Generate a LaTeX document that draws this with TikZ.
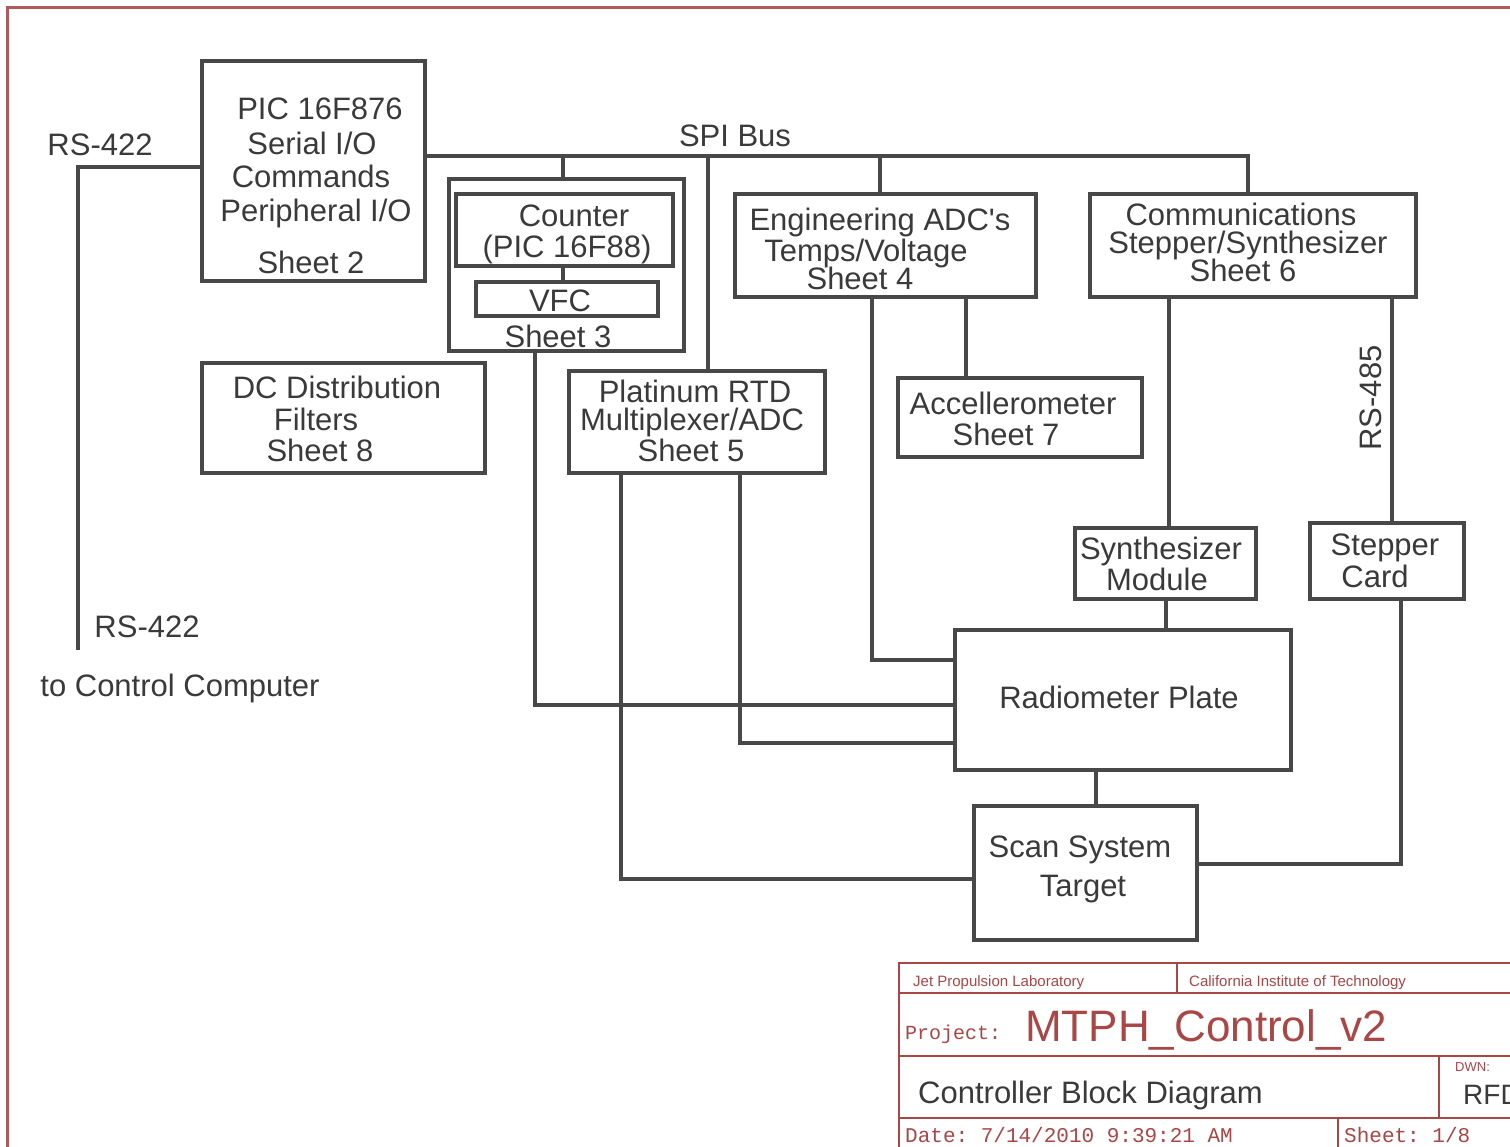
\documentclass[tikz,border=0pt]{standalone}
\usepackage{fontspec}
\setmainfont{Liberation Sans}
\setmonofont{Liberation Mono}
\usetikzlibrary{positioning}
\definecolor{wgray}{HTML}{484848}
\definecolor{tgray}{HTML}{3A3A3A}
\definecolor{fred}{HTML}{A94646}
\tikzset{
  blk/.style={draw=wgray,line width=3.5pt,inner sep=0pt},
  blkb/.style={blk,line width=4.5pt},
  wire/.style={draw=wgray,line width=4pt},
  txt/.style={text=tgray,font=\fontsize{31}{31}\selectfont,inner sep=0pt,text height=22pt,text depth=0pt},
  frm/.style={draw=fred,line width=2pt},
  ttl/.style={inner sep=0pt,anchor=west,text depth=0pt},
}

\begin{document}
\begin{tikzpicture}[x=1pt,y=-1pt]
  \useasboundingbox (0,0) rectangle (1510,1146);
  \clip (0,0) rectangle (1510,1146);
  \fill[white] (0,0) rectangle (1510,1146);
  % sheet frame
  \draw[draw=fred!90,line width=3pt] (7,1150) -- (7,7) -- (1515,7);

  % blocks
  \node[blk,minimum width=223pt,minimum height=220pt] (pic) at (313.5,171) {};
  \node[blk,minimum width=235pt,minimum height=172pt] (sh3) at (566.5,265) {};
  \node[blk,minimum width=217pt,minimum height=72pt] (cnt) at (564.5,230) {};
  \node[blk,minimum width=182pt,minimum height=34pt] (vfc) at (567,299) {};
  \node[blk,minimum width=283pt,minimum height=110pt] (dcd) at (343.5,418) {};
  \node[blk,minimum width=256pt,minimum height=102pt] (rtd) at (697,422) {};
  \node[blk,minimum width=301pt,minimum height=103pt] (eng) at (885.5,245.5) {};
  \node[blk,minimum width=326pt,minimum height=103pt] (com) at (1253,245.5) {};
  \node[blk,minimum width=244pt,minimum height=79pt] (acc) at (1020,417.5) {};
  \node[blkb,minimum width=181pt,minimum height=71pt] (syn) at (1165.5,563.5) {};
  \node[blkb,minimum width=154pt,minimum height=76pt] (stp) at (1387,561) {};
  \node[blk,minimum width=336pt,minimum height=140pt] (rad) at (1123,700) {};
  \node[blk,minimum width=223pt,minimum height=134pt] (scn) at (1085.5,873) {};

  % block texts
  \foreach \t/\x/\y [count=\i] in {
      {PIC 16F876}/320/108, {Serial I/O}/312/143, {Commands}/311/176,
      {Peripheral I/O}/316/210, {Sheet 2}/311/262,
      {Counter}/574/215, {(PIC 16F88)}/567/246, {VFC}/560/300, {Sheet 3}/558/336,
      {DC Distribution}/337/387, {Filters}/316/419, {Sheet 8}/320/450,
      {Platinum RTD}/695/391, {Multiplexer/ADC}/692/419, {Sheet 5}/691/450,
      {Engineering ADC\textquotesingle s}/880/219, {Temps/Voltage}/866/250, {Sheet 4}/860/278,
      {Communications}/1241/214, {Stepper/Synthesizer}/1248/242, {Sheet 6}/1243/270,
      {Accellerometer}/1013/403, {Sheet 7}/1006/434,
      {Synthesizer}/1161/548, {Module}/1157/579,
      {Stepper}/1385/544, {Card}/1375/576,
      {Radiometer Plate}/1119/697,
      {Scan System}/1080/846, {Target}/1083/885} {
    \node[txt] (l\i) at (\x,\y) {\t};
  }

  % bus and signal labels
  \node[txt] (spilbl) at (735,135) {SPI Bus};
  \node[txt] (rsa) at (100,144) {RS-422};
  \node[txt] (rsb) at (147,626) {RS-422};
  \node[txt] (host) at (180,685) {to Control Computer};
  \node[txt,rotate=90] (rs485) at (1370,398) {RS-485};

  % connections
  \coordinate (rs) at (78,650);
  \draw[wire] (pic.west |- 0,167) -| (rs);
  \coordinate (bs) at (1248,156);
  \draw[wire] (pic.east |- bs) -- (bs) -- (bs |- com.north);
  \foreach \x/\n in {563/sh3,708/rtd,880/eng}
    \draw[wire] (\x,156) -- (\x,156 |- \n.north);
  \draw[wire,line width=3.5pt] (cnt.south -| 563,0) -- (vfc.north -| 563,0);
  \draw[wire] (eng.south -| 966,0) -- (acc.north -| 966,0);
  \draw[wire] (eng.south -| 872,0) |- (rad.west |- 0,660);
  \draw[wire] (sh3.south -| 535,0) |- (rad.west |- 0,705);
  \draw[wire] (rtd.south -| 740,0) |- (rad.west |- 0,743);
  \draw[wire] (rtd.south -| 621,0) |- (scn.west |- 0,879);
  \draw[wire] (com.south -| 1169,0) -- (syn.north -| 1169,0);
  \draw[wire] (syn.south -| 1166,0) -- (rad.north -| 1166,0);
  \draw[wire] (com.south -| 1392,0) -- (stp.north -| 1392,0);
  \draw[wire] (stp.south -| 1401,0) |- (scn.east |- 0,864);
  \draw[wire] (rad.south -| 1096,0) -- (scn.north -| 1096,0);

  % title block
  \draw[frm] (1515,963) -- (899,963) -- (899,1150);
  \foreach \y in {993,1056,1118}
    \draw[frm] (899,\y) -- (1515,\y);
  \draw[frm] (1177,963) -- (1177,993);
  \draw[frm] (1439,1056) -- (1439,1118);
  \draw[frm] (1338,1118) -- (1338,1150);
  \node[ttl,text=fred,font=\fontsize{15}{15}\selectfont,text height=11pt] (jpl) at (913,981) {Jet Propulsion Laboratory};
  \node[ttl,text=fred,font=\fontsize{15}{15}\selectfont,text height=11pt] (cit) at (1189,981) {California Institute of Technology};
  \node[ttl,text=fred,font=\ttfamily\fontsize{20}{20}\selectfont,text height=12pt] (prj) at (905,1033) {Project:};
  \node[ttl,text=fred,font=\fontsize{44}{44}\selectfont,text height=32pt] (pname) at (1025,1025) {MTPH\_Control\_v2};
  \node[ttl,text=tgray,font=\fontsize{31}{31}\selectfont,text height=22pt] (dtitle) at (918,1092) {Controller Block Diagram};
  \node[ttl,text=fred,font=\fontsize{13}{13}\selectfont,text height=9pt] (dwn) at (1455,1067) {DWN:};
  \node[ttl,text=tgray,font=\fontsize{28}{28}\selectfont,text height=20pt] (drawer) at (1463,1094) {RFD};
  \node[ttl,text=fred,font=\ttfamily\fontsize{21}{21}\selectfont,text height=14pt] (date) at (905,1135) {Date: 7/14/2010 9:39:21 AM};
  \node[ttl,text=fred,font=\ttfamily\fontsize{21}{21}\selectfont,text height=14pt] (sheet) at (1344,1135) {Sheet: 1/8};
\end{tikzpicture}
\end{document}
